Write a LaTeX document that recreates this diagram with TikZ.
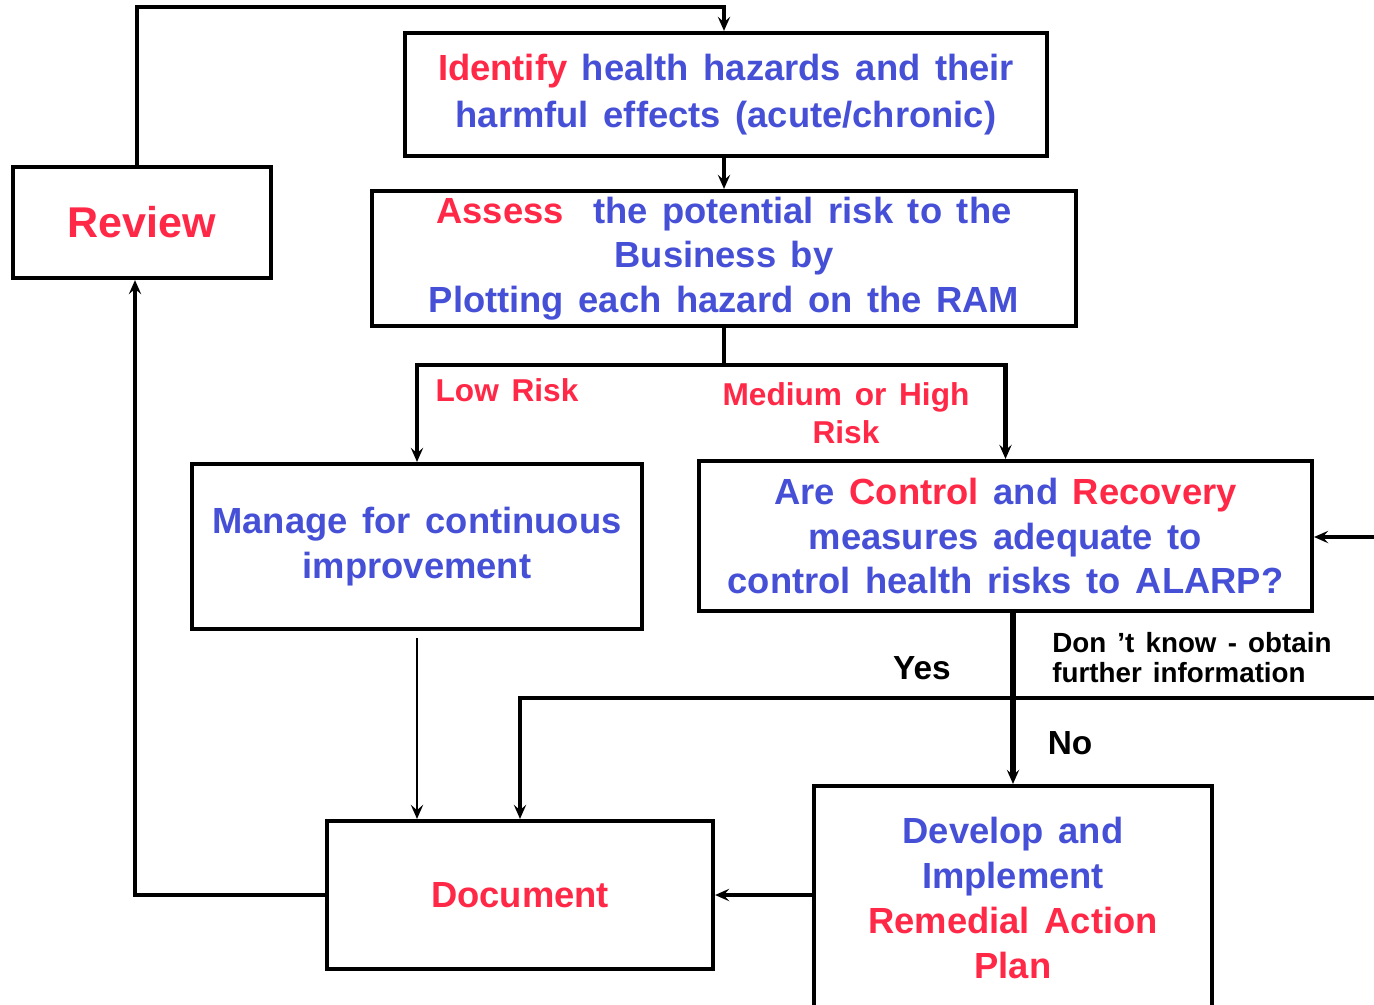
\documentclass[tikz,border=0pt]{standalone}
\usepackage{fontspec}
\setmainfont{Liberation Sans}[WordSpace=1.45]
\usetikzlibrary{arrows.meta}
\definecolor{riskred}{RGB}{255,40,70}
\definecolor{riskblue}{RGB}{70,80,215}

\begin{document}
\begin{tikzpicture}[x=0.02cm,y=-0.02cm]

\tikzset{
  Box/.style={draw=black, line width=2.4pt, fill=white, inner sep=0pt, align=center,
    text=riskblue, font=\bfseries\fontsize{20.7}{25.5}\selectfont},
  Tip/.style={-{Stealth[length=8pt,width=7pt,inset=3pt]}},
  Heavy/.style={Tip, line width=2.6pt},
  Mid/.style={Tip, line width=1.8pt},
  Thin/.style={Tip, line width=1.1pt},
  RiskLabel/.style={inner sep=0pt, align=center, text=riskred,
    font=\bfseries\fontsize{18}{21.5}\selectfont},
  Answer/.style={inner sep=0pt, font=\bfseries\fontsize{19}{22}\selectfont},
  Note/.style={inner sep=0pt, align=left, font=\bfseries\fontsize{15.8}{17}\selectfont}
}

\useasboundingbox (0,0) rectangle (1374,1005);

% Boxes

\node[Box, minimum width=5.16cm, minimum height=2.22cm, text=riskred,
  font=\bfseries\fontsize{24.5}{28}\selectfont] (review) at (142,222.5) {Review};
\node[Box, minimum width=12.84cm, minimum height=2.46cm,
  font=\bfseries\fontsize{20.7}{26.6}\selectfont] (identify) at (726,94.5)
  {\textcolor{riskred}{Identify} health hazards and their\\harmful effects (acute/chronic)};
\node[Box, minimum width=14.08cm, minimum height=2.7cm] (assess) at (724,258.5)
  {\textcolor{riskred}{Assess}\ \ the potential risk to the\\Business by\\Plotting each hazard on the RAM};
\node[Box, minimum width=9cm, minimum height=3.3cm] (manage) at (417,546.5)
  {Manage for continuous\\improvement};
\node[Box, minimum width=12.26cm, minimum height=3cm] (control) at (1005.5,536)
  {Are \textcolor{riskred}{Control} and \textcolor{riskred}{Recovery}\\measures adequate to\\control health risks to ALARP?};
\node[Box, minimum width=7.96cm, minimum height=4.48cm] (develop) at (1013,898)
  {Develop and\\Implement\\\textcolor{riskred}{Remedial Action}\\\textcolor{riskred}{Plan}};
\node[Box, minimum width=7.72cm, minimum height=2.96cm, text=riskred] (document) at (520,895)
  {Document};

% Corners

\coordinate (topleft) at (137,7);
\coordinate (topright) at (724,7);
\coordinate (split) at (724,365);
\coordinate (rightin) at (1374,537);
\coordinate (rightyes) at (1374,698);
\coordinate (leftdown) at (135,895);

% Connectors

\draw[Heavy] (review.north -| topleft) -- (topleft) -- (topright) -- (identify.north -| topright);
\draw[Heavy] (identify.south -| assess.north) -- (assess.north);
\draw[line width=2.6pt] (assess.south) -- (split);
\draw[Mid] (split) -| (manage.north);
\draw[Heavy] (split) -| (control.north);
\draw[Thin, shorten <=4pt] (manage.south) -- (manage.south |- document.north);
\draw[Heavy, line width=3pt] (control.south -| develop.north) -- (develop.north);
\draw[Mid] (rightyes) -| (document.north);
\draw[Heavy] (rightin) -- (control.east |- rightin);
\draw[Mid] (develop.west |- document.east) -- (document.east);
\draw[Mid] (document.west) -- (leftdown) -- (leftdown |- review.south);

% Labels

\node[RiskLabel] (lowrisk) at (507,390) {Low Risk};
\node[RiskLabel] (highrisk) at (846,413) {Medium or High\\Risk};
\node[Answer] (yes) at (922,668) {Yes};
\node[Answer] (no) at (1070,743) {No};
\node[Note, anchor=west] (dontknow) at (1052,658) {Don ’t know - obtain\\further information};

\end{tikzpicture}
\end{document}
